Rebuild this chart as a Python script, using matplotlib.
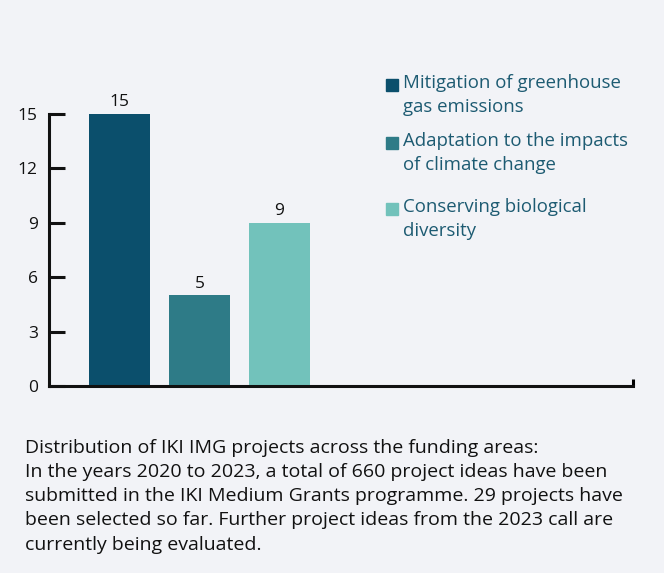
import matplotlib
matplotlib.use("Agg")
import matplotlib.pyplot as plt
from matplotlib.patches import Rectangle

# data
categories = ["Mitigation of greenhouse\ngas emissions",
              "Adaptation to the impacts\nof climate change",
              "Conserving biological\ndiversity"]
values = [15, 5, 9]
colors = ["#0b4f6c", "#2e7b87", "#72c2bb"]
yticks = [0, 3, 6, 9, 12, 15]
caption = ("Distribution of IKI IMG projects across the funding areas:\n"
           "In the years 2020 to 2023, a total of 660 project ideas have been\n"
           "submitted in the IKI Medium Grants programme. 29 projects have\n"
           "been selected so far. Further project ideas from the 2023 call are\n"
           "currently being evaluated.")

BG = "#f2f3f7"
LEG_TXT = "#1d5b72"
W, H = 664, 573

plt.rcParams["font.family"] = ["Open Sans", "DejaVu Sans"]

fig = plt.figure(figsize=(W / 100, H / 100), dpi=100, facecolor=BG)
ax = fig.add_axes([49 / W, 1 - 386 / H, 584 / W, 272 / H], facecolor=BG)

x = list(range(len(values)))
ax.bar(x, values, width=0.76, color=colors)
for xi, v in zip(x, values):
    ax.text(xi, v + 0.2, str(v), ha="center", va="bottom", fontsize=12.5, color="#111111")

ax.set_xlim(-0.881, 6.42)
ax.set_ylim(0, 15)
ax.set_yticks(yticks)
ax.tick_params(axis="y", direction="in", length=11.5, width=2.2, labelsize=12.5, pad=8, colors="#111111")
ax.set_xticks([6.42])
ax.set_xticklabels([])
ax.tick_params(axis="x", direction="in", length=5, width=2.2)
for side in ["top", "right"]:
    ax.spines[side].set_visible(False)
for side in ["left", "bottom"]:
    ax.spines[side].set_linewidth(2.2)
    ax.spines[side].set_color("#111111")

# legend
sq_tops = [79, 137, 203]
for top, lab, c in zip(sq_tops, categories, colors):
    fig.patches.append(Rectangle((386 / W, 1 - (top + 12) / H), 12 / W, 12 / H,
                                 transform=fig.transFigure, color=c))
    fig.text(403 / W, 1 - (top - 5) / H, lab, ha="left", va="top", fontsize=13.4,
             color=LEG_TXT, linespacing=1.42)

fig.text(25 / W, 1 - 439 / H, caption, ha="left", va="top", fontsize=14,
         color="#111111", linespacing=1.44)

fig.savefig("out.png", dpi=100, facecolor=BG)
